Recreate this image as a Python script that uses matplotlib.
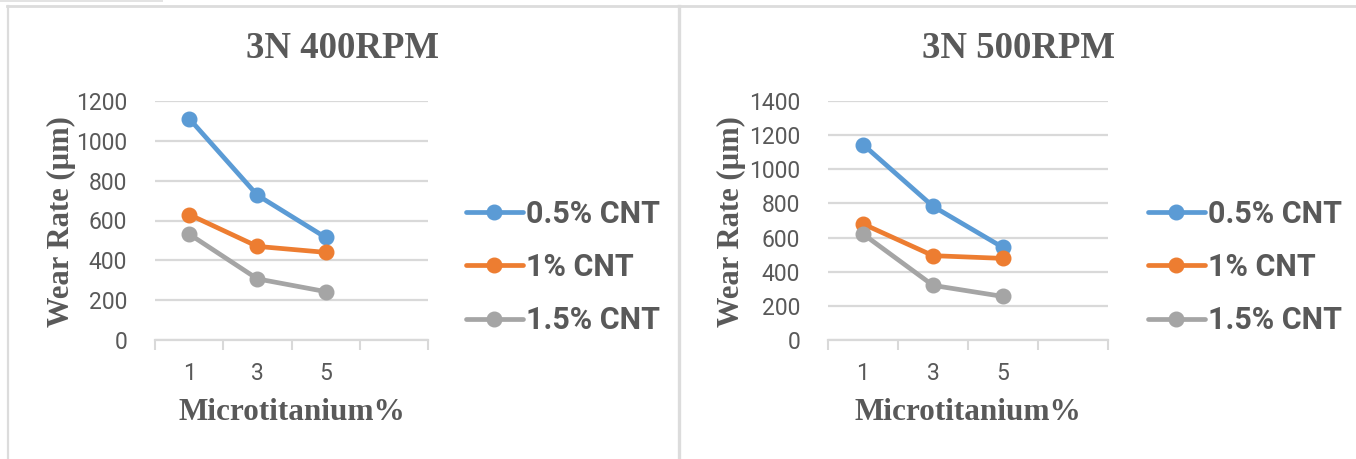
import matplotlib
matplotlib.use("Agg")
import matplotlib.pyplot as plt
from matplotlib.lines import Line2D
from matplotlib.patches import Rectangle

# data
categories = ["1", "3", "5"]
series_names = ["0.5% CNT", "1% CNT", "1.5% CNT"]
colors = ["#5B9BD5", "#ED7D31", "#A5A5A5"]

wear_400 = [
    [1112, 727, 515],
    [630, 470, 440],
    [532, 307, 243],
]
wear_500 = [
    [1145, 783, 542],
    [680, 494, 478],
    [621, 320, 255],
]

titles = ["3N 400RPM", "3N 500RPM"]
y_max = [1200, 1400]

text_col = "#595959"
grid_col = "#D9D9D9"
serif = ["Liberation Serif", "DejaVu Serif"]
sans = ["Roboto", "DejaVu Sans"]

W, H = 1356, 459
fig = plt.figure(figsize=(W / 100, H / 100), dpi=100)

# panel frames (the gray borders around the two excel charts)
fig.add_artist(Rectangle((0, 1 - 1.5 / H), 163 / W, 1.5 / H, transform=fig.transFigure,
                         color="#E3E3E3", lw=0))
fig.add_artist(Line2D([7 / W, 1], [1 - 6 / H, 1 - 6 / H], transform=fig.transFigure,
                      color="#DCDCDC", lw=2))
fig.add_artist(Line2D([7.5 / W, 7.5 / W], [0, 1 - 6 / H], transform=fig.transFigure,
                      color="#DCDCDC", lw=1.6))
fig.add_artist(Line2D([679 / W, 679 / W], [0, 1 - 6 / H], transform=fig.transFigure,
                      color="#DCDCDC", lw=2.4))

panels = [
    dict(x0=155, x1=428, title_x=342, ylab_x=61, leg_x=466, data=wear_400),
    dict(x0=828, x1=1108, title_x=1018, ylab_x=731, leg_x=1148, data=wear_500),
]

ax_bottom = 340
ax_top = 101

for i, p in enumerate(panels):
    ax = fig.add_axes([p["x0"] / W, 1 - ax_bottom / H,
                       (p["x1"] - p["x0"]) / W, (ax_bottom - ax_top) / H])
    xs = list(range(len(categories)))
    for name, vals, col in zip(series_names, p["data"], colors):
        ax.plot(xs, vals, color=col, lw=3.4, marker="o", markersize=10.5,
                solid_capstyle="round", label=name)

    ax.set_xlim(-0.5, 3.5)
    ax.set_ylim(0, y_max[i])
    ax.set_yticks(range(0, y_max[i] + 1, 200))
    ax.set_xticks(xs)
    ax.set_xticklabels(categories)
    ax.set_xticks([-0.5, 0.5, 1.5, 2.5, 3.5], minor=True)
    ax.tick_params(axis="x", which="major", length=0, pad=16)
    ax.tick_params(axis="x", which="minor", length=7, width=1.5, color=grid_col)
    ax.tick_params(axis="y", length=0, pad=20)
    for lab in ax.get_xticklabels() + ax.get_yticklabels():
        lab.set_family(sans)
        lab.set_fontsize(16.5)
        lab.set_color(text_col)

    ax.grid(axis="y", color=grid_col, lw=1.6)
    ax.set_axisbelow(True)
    for s in ["top", "right", "left"]:
        ax.spines[s].set_visible(False)
    ax.spines["bottom"].set_color(grid_col)
    ax.spines["bottom"].set_linewidth(1.6)
    ax.patch.set_alpha(0)

    fig.text(p["title_x"] / W, 1 - 48 / H, titles[i], ha="center", va="center",
             family=serif, fontweight="bold", fontsize=26.5, color=text_col)
    fig.text(p["ylab_x"] / W, 1 - 222 / H, "Wear Rate (µm)", ha="center", va="center",
             rotation=90, family=serif, fontweight="bold", fontsize=22, color=text_col)
    fig.text((p["x0"] + p["x1"]) / 2 / W, 1 - 413 / H, "Microtitanium%", ha="center",
             va="center", family=serif, fontweight="bold", fontsize=22.5, color=text_col)

    leg = ax.legend(loc="center left", bbox_to_anchor=(p["leg_x"] / W, 1 - 267 / H),
                    bbox_transform=fig.transFigure, frameon=False,
                    prop=dict(family=sans, weight="bold", size=22),
                    handlelength=1.85, handletextpad=0.1, labelspacing=0.76,
                    borderaxespad=0, borderpad=0)
    for t in leg.get_texts():
        t.set_color(text_col)

fig.savefig("out.png", dpi=100)
